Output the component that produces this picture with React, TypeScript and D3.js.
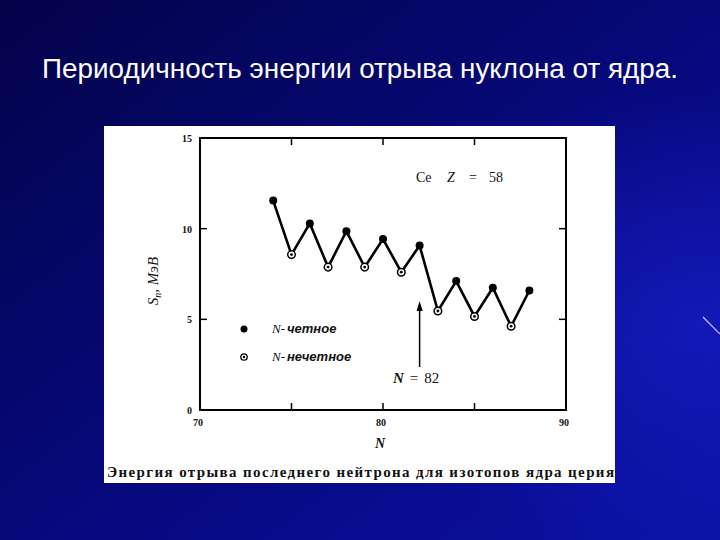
import * as React from "react";
import * as d3 from "d3";

// число нейтронов N и энергия отрыва нейтрона S_n (МэВ) для изотопов Ce
const neutronN = [74, 75, 76, 77, 78, 79, 80, 81, 82, 83, 84, 85, 86, 87, 88];
const snValues = [11.55, 8.57, 10.29, 7.88, 9.86, 7.88, 9.43, 7.6, 9.07, 5.46, 7.11, 5.16, 6.74, 4.62, 6.59];
const yTickLabels = [0, 5, 10, 15];
const yTickMarks = [5, 10];
const xTickLabels = [70, 80, 90];
const xTickMarks = [75, 80, 85];

const title = "Периодичность энергии отрыва нуклона от ядра.";
const caption = "Энергия отрыва последнего нейтрона для изотопов ядра церия";

export default function App() {
  const x = d3.scaleLinear().domain([70, 90]).range([200, 566]);
  const y = d3.scaleLinear().domain([0, 15]).range([410, 138]);
  const pts = neutronN.map((n, i) => ({ n, v: snValues[i] }));
  const line = d3.line<any>().x(d => x(d.n)).y(d => y(d.v));

  const serif = "'Liberation Serif', 'DejaVu Serif', serif";
  const sans = "'Liberation Sans', Arial, sans-serif";
  const arrowX = x(82);

  return (
    <svg width={720} height={540} style={{ position: "fixed", left: 0, top: 0, display: "block" }}>
      <defs>
        <linearGradient id="bg" x1="0" y1="0" x2="1" y2="1">
          <stop offset="0" stopColor="#030349" />
          <stop offset="0.55" stopColor="#07097e" />
          <stop offset="1" stopColor="#0b12a6" />
        </linearGradient>
        <radialGradient id="glow" cx="0.97" cy="0.6" r="0.45">
          <stop offset="0" stopColor="#1a20d0" stopOpacity="0.6" />
          <stop offset="1" stopColor="#1a20d0" stopOpacity="0" />
        </radialGradient>
      </defs>
      <rect width={720} height={540} fill="url(#bg)" />
      <rect width={720} height={540} fill="url(#glow)" />
      <line x1={703} y1={317} x2={720} y2={334} stroke="#c8b8ff" strokeWidth={1.2} />

      <text x={42} y={78} fill="#ffffff" fontFamily={sans} fontSize={27}
        textLength={636} lengthAdjust="spacingAndGlyphs">
        {title}
      </text>

      {/* белая вставка с графиком */}
      <rect x={104} y={126} width={511} height={357} fill="#ffffff" />

      {/* рамка графика */}
      <rect x={x(70)} y={y(15)} width={x(90) - x(70)} height={y(0) - y(15)}
        fill="none" stroke="#000" strokeWidth={2} />

      {yTickMarks.map(t => (
        <g key={"yt" + t}>
          <line x1={x(70)} x2={x(70) + 7} y1={y(t)} y2={y(t)} stroke="#000" strokeWidth={1.5} />
          <line x1={x(90)} x2={x(90) - 7} y1={y(t)} y2={y(t)} stroke="#000" strokeWidth={1.5} />
        </g>
      ))}
      {xTickMarks.map(t => (
        <g key={"xt" + t}>
          <line x1={x(t)} x2={x(t)} y1={y(0)} y2={y(0) - 7} stroke="#000" strokeWidth={1.5} />
          <line x1={x(t)} x2={x(t)} y1={y(15)} y2={y(15) + 7} stroke="#000" strokeWidth={1.5} />
        </g>
      ))}

      {yTickLabels.map(t => (
        <text key={"yl" + t} x={192} y={y(t) + 4} textAnchor="end" fontFamily={serif}
          fontSize={10} fontWeight="bold" fill="#111">{t}</text>
      ))}
      {xTickLabels.map(t => (
        <text key={"xl" + t} x={x(t) - 2} y={426} textAnchor="middle" fontFamily={serif}
          fontSize={10} fontWeight="bold" fill="#111">{t}</text>
      ))}

      <text x={380} y={448} textAnchor="middle" fontFamily={serif} fontSize={14}
        fontStyle="italic" fontWeight="bold" fill="#111">N</text>

      <text transform="translate(158,281) rotate(-90)" textAnchor="middle" fontFamily={serif}
        fontSize={15} fontStyle="italic" fill="#111">
        S<tspan fontSize={10} dy={3}>n</tspan><tspan dy={-3}>, МэВ</tspan>
      </text>

      {/* данные */}
      <path d={line(pts) || ""} fill="none" stroke="#000" strokeWidth={2.6} strokeLinejoin="miter" />
      {pts.map(p => p.n % 2 === 0 ? (
        <circle key={p.n} cx={x(p.n)} cy={y(p.v)} r={4} fill="#000" />
      ) : (
        <g key={p.n}>
          <circle cx={x(p.n)} cy={y(p.v)} r={3.8} fill="#fff" stroke="#000" strokeWidth={1.5} />
          <circle cx={x(p.n)} cy={y(p.v)} r={1.4} fill="#000" />
        </g>
      ))}

      <text x={416} y={182} fontFamily={serif} fontSize={14} fill="#111">Ce</text>
      <text x={447} y={182} fontFamily={serif} fontSize={14} fill="#111" fontStyle="italic">Z</text>
      <text x={469} y={182} fontFamily={serif} fontSize={14} fill="#111">=</text>
      <text x={503} y={182} fontFamily={serif} fontSize={14} fill="#111" textAnchor="end">58</text>

      {/* легенда */}
      <circle cx={244} cy={329} r={3.5} fill="#000" />
      <text x={272} y={333} fontSize={13} fill="#111">
        <tspan fontFamily={serif} fontStyle="italic">N-</tspan>
        <tspan fontFamily={sans} fontStyle="italic" fontWeight="bold" dx={2}>четное</tspan>
      </text>
      <circle cx={244} cy={357} r={3.2} fill="#fff" stroke="#000" strokeWidth={1.3} />
      <circle cx={244} cy={357} r={1.2} fill="#000" />
      <text x={272} y={361} fontSize={13} fill="#111">
        <tspan fontFamily={serif} fontStyle="italic">N-</tspan>
        <tspan fontFamily={sans} fontStyle="italic" fontWeight="bold" dx={2}>нечетное</tspan>
      </text>

      {/* стрелка N = 82 */}
      <line x1={arrowX} x2={arrowX} y1={367} y2={306} stroke="#000" strokeWidth={1.5} />
      <path d={`M${arrowX},301 L${arrowX - 3},311 L${arrowX + 3},311 Z`} fill="#000" />
      <text x={393} y={383} fontFamily={serif} fontSize={15} fill="#111">
        <tspan fontStyle="italic" fontWeight="bold">N</tspan>
        <tspan dx={6}>=</tspan>
        <tspan dx={6}>82</tspan>
      </text>

      <text x={107} y={477} fontFamily={serif} fontSize={15} fontWeight="bold" fill="#111"
        textLength={507} lengthAdjust="spacing">{caption}</text>
    </svg>
  );
}
